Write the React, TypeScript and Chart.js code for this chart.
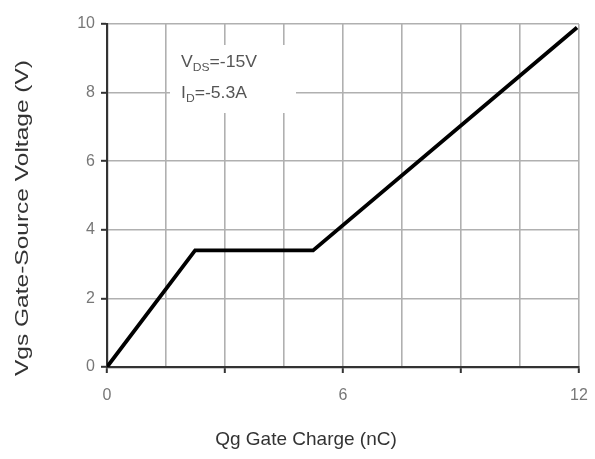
import React, { useEffect, useRef } from "react";
import { Chart, registerables } from "chart.js";

Chart.register(...registerables);

const chargeNC = [0, 2.24, 5.24, 11.95];
const gateVoltage = [0, 3.4, 3.4, 9.9];
const xLabeled = [0, 6, 12];
const yTicks = [0, 2, 4, 6, 8, 10];
const xTitle = "Qg Gate Charge (nC)";
const yTitle = "Vgs Gate-Source Voltage (V)";
const noteLines = [
  { main: "V", sub: "DS", rest: "=-15V" },
  { main: "I", sub: "D", rest: "=-5.3A" },
];

const FONT = "'Liberation Sans', Arial, sans-serif";

export default function App() {
  const ref = useRef<HTMLCanvasElement>(null);

  useEffect(() => {
    document.body.style.margin = "0";
    const canvas = ref.current!;
    const overlay = {
      id: "overlay",
      beforeDatasetsDraw(chart: any) {
        const ctx = chart.ctx;
        ctx.save();
        ctx.fillStyle = "#ffffff";
        ctx.fillRect(170, 45, 126, 68);
        ctx.fillStyle = "#555";
        ctx.textBaseline = "alphabetic";
        let y = 67;
        for (const l of noteLines) {
          ctx.save();
          ctx.translate(181, y);
          ctx.scale(1.1, 1);
          let x = 0;
          ctx.font = `16px ${FONT}`;
          ctx.fillText(l.main, x, 0);
          x += ctx.measureText(l.main).width;
          ctx.font = `11px ${FONT}`;
          ctx.fillText(l.sub, x, 4);
          x += ctx.measureText(l.sub).width;
          ctx.font = `16px ${FONT}`;
          ctx.fillText(l.rest, x, 0);
          ctx.restore();
          y += 31;
        }
        ctx.restore();
      },
      afterDraw(chart: any) {
        const ctx = chart.ctx;
        ctx.save();
        ctx.fillStyle = "#333";
        ctx.font = `19px ${FONT}`;
        ctx.textAlign = "center";
        ctx.textBaseline = "middle";
        ctx.fillText(xTitle, 306, 440);
        ctx.font = `19px ${FONT}`;
        const w = ctx.measureText(yTitle).width;
        ctx.translate(23, 218);
        ctx.rotate(-Math.PI / 2);
        ctx.scale(316 / w, 1);
        ctx.fillText(yTitle, 0, 0);
        ctx.restore();
      },
    };

    const chart = new Chart(canvas, {
      type: "scatter",
      data: {
        datasets: [
          {
            data: chargeNC.map((x, i) => ({ x, y: gateVoltage[i] })),
            showLine: true,
            borderColor: "#000",
            borderWidth: 3.8,
            pointRadius: 0,
            fill: false,
            tension: 0,
          },
        ],
      },
      options: {
        animation: false,
        responsive: false,
        maintainAspectRatio: false,
        layout: { padding: { left: 0, top: 24, right: 16, bottom: 0 } },
        plugins: { legend: { display: false }, tooltip: { enabled: false } },
        scales: {
          x: {
            type: "linear",
            min: 0,
            max: 12,
            afterFit(scale: any) {
              scale.height = 92;
              scale.paddingRight = 0;
              scale.paddingLeft = 0;
            },
            afterBuildTicks(scale: any) {
              const t = [];
              for (let v = 0; v <= 12; v += 1.5) t.push({ value: v });
              scale.ticks = t;
            },
            grid: {
              color: "#b0b0b0",
              lineWidth: 1.6,
              tickLength: 6,
              tickColor: (c: any) =>
                c.tick && c.tick.value % 3 === 0 ? "#333" : "rgba(0,0,0,0)",
              tickWidth: 2,
            },
            border: { color: "#333", width: 2.2 },
            ticks: {
              autoSkip: false,
              maxRotation: 0,
              padding: 13,
              color: "#777",
              font: { family: FONT, size: 16 },
              callback: (v: any) => (xLabeled.includes(Number(v)) ? String(v) : ""),
            },
          },
          y: {
            type: "linear",
            min: 0,
            max: 10,
            afterFit(scale: any) {
              scale.width = 107;
              scale.paddingTop = 0;
              scale.paddingBottom = 0;
            },
            afterBuildTicks(scale: any) {
              scale.ticks = yTicks.map((v) => ({ value: v }));
            },
            grid: {
              color: "#b0b0b0",
              lineWidth: 1.6,
              tickLength: 6,
              tickColor: "#333",
              tickWidth: 2,
            },
            border: { color: "#333", width: 2.2 },
            ticks: {
              padding: 6,
              color: "#777",
              font: { family: FONT, size: 16 },
            },
          },
        },
      },
      plugins: [overlay],
    });
    return () => chart.destroy();
  }, []);

  return <canvas ref={ref} width={595} height={459} style={{ display: "block" }} />;
}
